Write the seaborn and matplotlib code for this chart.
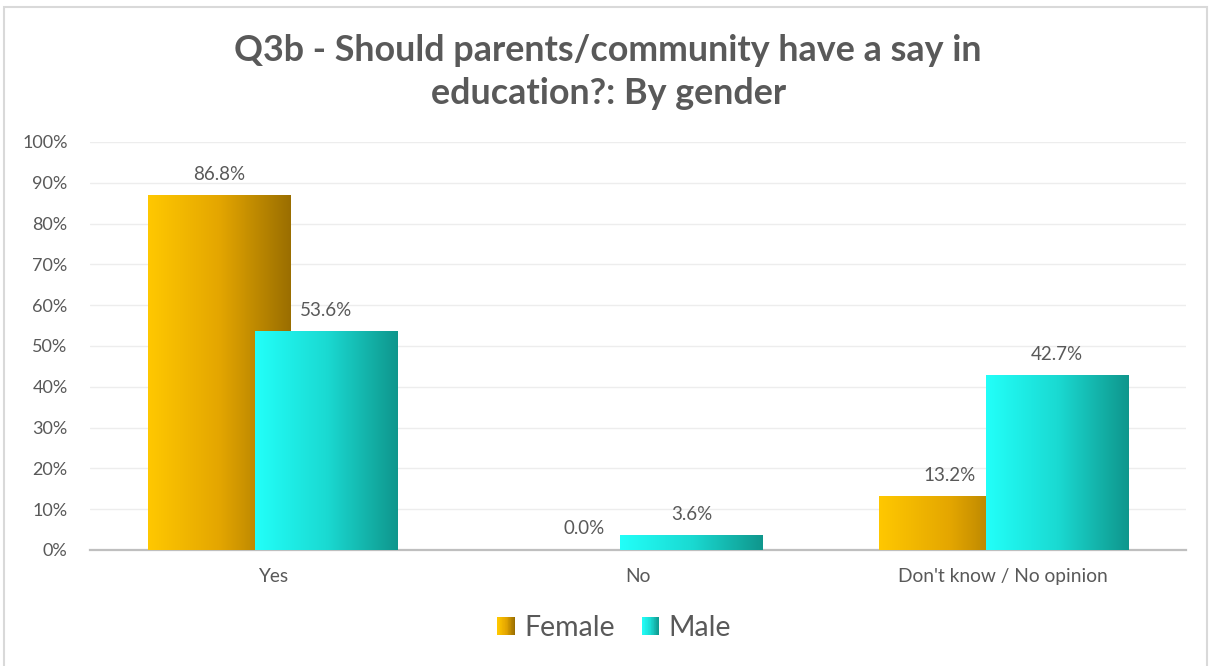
import numpy as np
import pandas as pd
import matplotlib
matplotlib.use("Agg")
import matplotlib.pyplot as plt
import seaborn as sns
from matplotlib.colors import LinearSegmentedColormap
from matplotlib.legend_handler import HandlerBase
from matplotlib.patches import Rectangle

categories = ["Yes", "No", "Don't know / No opinion"]
genders = ["Female", "Male"]
female = [86.8, 0.0, 13.2]
male = [53.6, 3.6, 42.7]
yticks = list(range(0, 101, 10))

ramps = {
    "Female": ["#FFC800", "#E4A600", "#9A6E00"],
    "Male": ["#22FFF9", "#1ADAD2", "#0F968C"],
}
grey = "#595959"

df = pd.DataFrame({
    "answer": categories * 2,
    "gender": ["Female"] * len(categories) + ["Male"] * len(categories),
    "pct": female + male,
})


class GradientHandler(HandlerBase):
    """Legend key drawn as a small square with a horizontal gradient."""

    def __init__(self, colors, steps=24):
        super().__init__()
        self.cmap = LinearSegmentedColormap.from_list("key", colors)
        self.steps = steps

    def create_artists(self, legend, orig_handle, xdescent, ydescent,
                       width, height, fontsize, trans):
        size = min(width, height)
        x0 = -xdescent + (width - size) / 2
        y0 = -ydescent + (height - size) / 2
        step = size / self.steps
        arts = []
        for i in range(self.steps):
            r = Rectangle((x0 + i * step, y0), step * 1.05, size,
                          facecolor=self.cmap(i / (self.steps - 1)),
                          edgecolor="none", transform=trans)
            arts.append(r)
        return arts


sns.set_theme(style="white")
plt.rcParams["font.family"] = ["Lato", "DejaVu Sans"]

fig = plt.figure(figsize=(12.09, 6.66), dpi=100)
ax = fig.add_axes([0.0744, 0.1742, 0.9066, 0.6126])

sns.barplot(data=df, x="answer", y="pct", hue="gender", order=categories,
            hue_order=genders, palette=[ramps[g][1] for g in genders],
            width=0.585, gap=-0.333, legend=False, ax=ax)

# swap flat fills for left-to-right gradients
grad = np.linspace(0, 1, 256).reshape(1, -1)
for gi, (gender, cont) in enumerate(zip(genders, ax.containers)):
    cmap = LinearSegmentedColormap.from_list(gender, ramps[gender])
    for bar in cont:
        bar.set_zorder(3 + gi)
        bar.set_facecolor("none")
        bar.set_edgecolor("none")
        h = bar.get_height()
        if h <= 0:
            continue
        x0 = bar.get_x()
        ax.imshow(grad, cmap=cmap, aspect="auto", interpolation="bilinear",
                  extent=[x0, x0 + bar.get_width(), 0, h], zorder=2.9 + gi)
    ax.bar_label(cont, fmt="%.1f%%", padding=9, color=grey, fontsize=13.5)

ax.set_xlim(-0.5, len(categories) - 0.5)
ax.set_ylim(0, 100)
ax.set_yticks(yticks)
ax.set_yticklabels([f"{t}%" for t in yticks])
ax.yaxis.grid(True, color="#EDEDED", linewidth=1)
ax.set_axisbelow(True)
ax.set_xlabel("")
ax.set_ylabel("")
ax.tick_params(axis="y", length=0, pad=16, labelsize=13, labelcolor=grey)
ax.tick_params(axis="x", length=0, pad=13, labelsize=13.8, labelcolor=grey)
for side in ["top", "right", "left"]:
    ax.spines[side].set_visible(False)
ax.spines["bottom"].set_color("#BFBFBF")
ax.spines["bottom"].set_linewidth(1.6)

fig.text(0.503, 0.892, "Q3b - Should parents/community have a say in\neducation?: By gender",
         ha="center", va="center", fontsize=25.8, fontweight="bold", color=grey,
         linespacing=1.4)

proxies = [Rectangle((0, 0), 1, 1) for _ in genders]
fig.legend(proxies, genders, loc="center", bbox_to_anchor=(0.508, 0.057),
           ncol=2, frameon=False, fontsize=20.5, labelcolor=grey,
           handlelength=0.62, handleheight=0.62, handletextpad=0.32,
           columnspacing=0.95,
           handler_map={p: GradientHandler(ramps[g]) for p, g in zip(proxies, genders)})

fig.patches.append(Rectangle((0.0035, -0.02), 0.9945, 1.0095, transform=fig.transFigure,
                             fill=False, edgecolor="#D9D9D9", linewidth=1.5))

fig.savefig("out.png", dpi=100)
